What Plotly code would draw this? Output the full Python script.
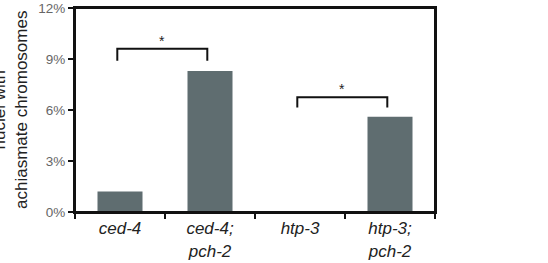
import plotly.graph_objects as go

categories = ["<i>ced-4</i>", "<i>ced-4;</i><br><i>pch-2</i>", "<i>htp-3</i>", "<i>htp-3;</i><br><i>pch-2</i>"]
values = [1.2, 8.3, 0.0, 5.6]
y_ticks = [0, 3, 6, 9, 12]
y_tick_labels = ["0%", "3%", "6%", "9%", "12%"]
# significance comparisons: (left index, right index, bar height %, leg drop %)
comparisons = [(0, 1, 9.6, 0.7), (2, 3, 6.75, 0.6)]
star_label = "*"

fig = go.Figure()
fig.add_trace(go.Bar(x=list(range(len(categories))), y=values, width=0.5,
                     marker=dict(color="#5f6d70", line=dict(width=0)), showlegend=False))

for (a, b, h, d) in comparisons:
    xa, xb = a - 0.03, b - 0.03
    fig.add_trace(go.Scatter(x=[xa, xa, xb, xb], y=[h - d, h, h, h - d], mode="lines",
                             line=dict(color="#111", width=2), showlegend=False,
                             hoverinfo="skip"))
    fig.add_annotation(x=(xa + xb) / 2, y=h, text=star_label, showarrow=False,
                       yanchor="bottom", yshift=-2, font=dict(size=14, color="#222"))

fig.update_layout(
    width=548, height=263,
    margin=dict(l=75, r=113, t=8, b=51, autoexpand=False),
    plot_bgcolor="white", paper_bgcolor="white",
    font=dict(family="Liberation Sans, Arial, sans-serif"),
    bargap=0.5,
)
fig.update_xaxes(
    range=[-0.5, 3.5], tickmode="array", tickvals=list(range(len(categories))),
    ticktext=categories, showline=True, linecolor="#111", linewidth=2, mirror=True,
    showgrid=False, zeroline=False, ticks="", tickfont=dict(size=17, color="#222"),
)
# boundary ticks for x axis
fig.update_xaxes(minor=dict(tickvals=[-0.5, 0.5, 1.5, 2.5, 3.5], ticks="outside",
                            ticklen=5, tickwidth=2, tickcolor="#111", showgrid=False))
fig.update_yaxes(
    range=[0, 12], tickvals=y_ticks, ticktext=y_tick_labels, showline=True,
    linecolor="#111", linewidth=2, mirror=True, showgrid=False, zeroline=False,
    ticks="outside", ticklen=5, tickwidth=2, tickcolor="#111",
    tickfont=dict(size=13.5, color="#666"), ticklabeloverflow="allow",
)
fig.add_shape(type="rect", xref="paper", yref="paper", x0=0, x1=1, y0=0, y1=1,
              line=dict(color="#111", width=2), layer="above")
fig.add_annotation(xref="paper", yref="paper", x=(10 - 75) / 360, y=0.5,
                   text="nuclei with<br>achiasmate chromosomes", textangle=-90,
                   showarrow=False, xanchor="center", yanchor="middle",
                   font=dict(size=17, color="#222"))

fig.write_html("out.html")
